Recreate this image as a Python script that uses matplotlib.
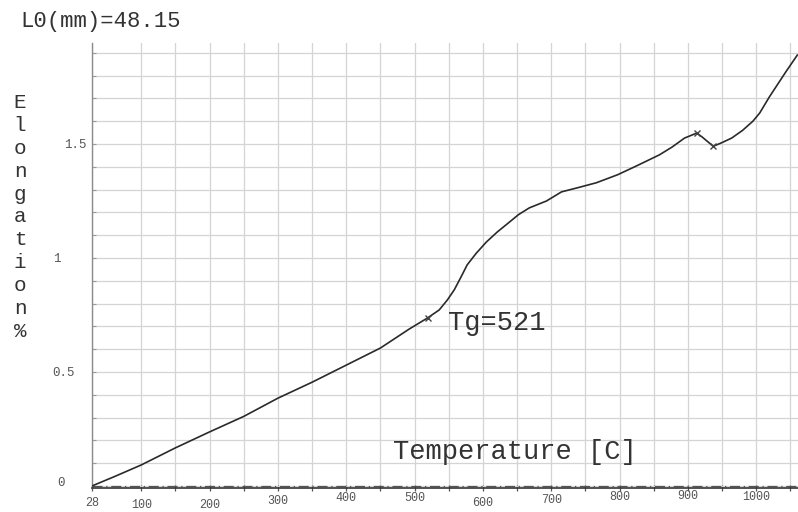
import matplotlib
matplotlib.use("Agg")
import matplotlib.pyplot as plt
import matplotlib.transforms as mtransforms
import numpy as np

# ---- data ----
temperature = [28, 60, 100, 150, 200, 250, 300, 350, 400, 450, 492, 519, 536, 548,
               558, 568, 577, 590, 605, 621, 639, 652, 668, 693, 715, 741, 766,
               797, 822, 858, 877, 895, 913, 921, 929, 937, 949, 964, 980, 995,
               1005, 1019, 1044, 1060]
elongation = [0.0, 0.04, 0.092, 0.167, 0.237, 0.305, 0.385, 0.455, 0.53, 0.605, 0.688,
              0.737, 0.772, 0.816, 0.86, 0.917, 0.97, 1.02, 1.07, 1.114, 1.158,
              1.19, 1.22, 1.25, 1.29, 1.31, 1.33, 1.365, 1.40, 1.452, 1.487, 1.526,
              1.548, 1.53, 1.51, 1.49, 1.505, 1.526, 1.56, 1.6, 1.636, 1.706, 1.82,
              1.89]
marker_t = [519, 913, 937]
marker_e = [0.737, 1.548, 1.49]

xtick_values = [28, 100, 200, 300, 400, 500, 600, 700, 800, 900, 1000]
xtick_labels = ["28", "100", "200", "300", "400", "500", "600", "700", "800", "900", "1000"]
ytick_values = [0, 0.5, 1, 1.5]
ytick_labels = ["0", "0.5", "1", "1.5"]

title_text = "L0(mm)=48.15"
xlabel_text = "Temperature [C]"
ylabel_text = "Elongation%"
tg_text = "Tg=521"

MONO = ["Liberation Mono", "DejaVu Sans Mono"]

fig = plt.figure(figsize=(7.98, 5.12), dpi=100)
ax = fig.add_axes([92 / 798, (512 - 488) / 512, (798 - 92) / 798, (488 - 43) / 512])
ax.set_xlim(28, 1061)
ax.set_ylim(-0.009, 1.943)

# grid
ax.set_xticks(xtick_values)
ax.set_xticks(np.arange(150, 1051, 100), minor=True)
ax.set_yticks(ytick_values)
ax.set_yticks(np.arange(0.1, 1.95, 0.1), minor=True)
ax.grid(True, which="both", color="#d4d4d4", linewidth=0.9)
ax.set_axisbelow(True)

for s in ["top", "right"]:
    ax.spines[s].set_visible(False)
ax.spines["left"].set_color("#8a8a8a")
ax.spines["left"].set_linewidth(1.0)
ax.spines["bottom"].set_color("#333333")
ax.spines["bottom"].set_linewidth(1.2)

ax.tick_params(axis="x", which="both", direction="inout", length=5, width=0.9,
               color="#555555", pad=2.0)
ax.tick_params(axis="y", which="both", direction="in", length=3, width=0.8,
               color="#999999", pad=4)

ax.set_xticklabels(xtick_labels, fontsize=8.5, family=MONO, color="#555555")
ax.set_yticklabels(ytick_labels, fontsize=9, family=MONO, color="#555555")

# per-label offsets (pixels) to mimic the reference's uneven label placement
x_dy = [-3, -5, -5, -1, 2, 2, -3, 0, 3, 4, 3]
for lab, dy in zip(ax.get_xticklabels(), x_dy):
    lab.set_transform(lab.get_transform() +
                      mtransforms.ScaledTranslation(0, dy / 100, fig.dpi_scale_trans))
y_off = [(-22, 4), (-12, 0), (-26, 0), (0, 0)]
for lab, (dx, dy) in zip(ax.get_yticklabels(), y_off):
    lab.set_transform(lab.get_transform() +
                      mtransforms.ScaledTranslation(dx / 100, dy / 100, fig.dpi_scale_trans))

# zero reference dash-dot line
ax.axhline(0, color="#555555", linewidth=0.9, linestyle=(0, (8, 3, 1, 3)))

# curve
ax.plot(temperature, elongation, color="#2a2a2a", linewidth=1.2, zorder=3)
ax.plot(marker_t, marker_e, linestyle="none", marker="x", markersize=4.5,
        color="#444444", markeredgewidth=1.0, zorder=4)

# texts
fig.text(20 / 798, 1 - 22 / 512, title_text, fontsize=16, family=MONO,
         color="#333333", ha="left", va="center")
fig.text(20 / 798, 1 - 217 / 512, "\n".join(ylabel_text), fontsize=15, family=MONO,
         color="#333333", ha="center", va="center", linespacing=1.26)
fig.text(393 / 798, 1 - 452 / 512, xlabel_text, fontsize=19.5, family=MONO,
         color="#333333", ha="left", va="center")
fig.text(448 / 798, 1 - 323 / 512, tg_text, fontsize=19.5, family=MONO,
         color="#333333", ha="left", va="center")

fig.savefig("out.png", dpi=100)
